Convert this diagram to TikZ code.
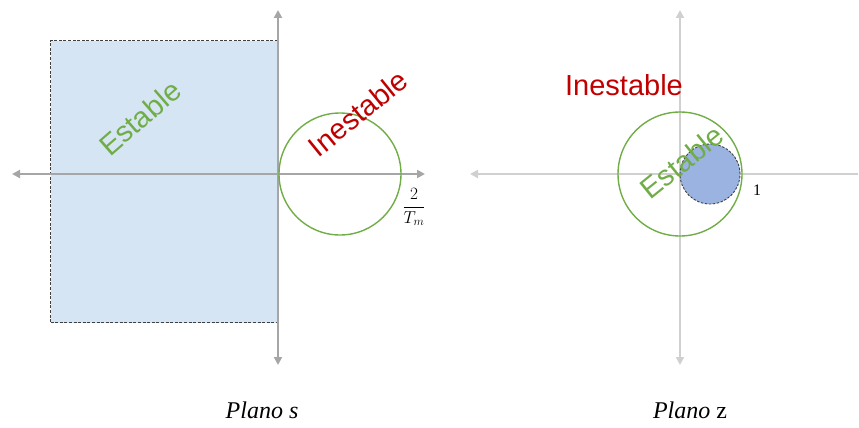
\documentclass[tikz,border=0pt]{standalone}
\usepackage{fontspec}
\setmainfont{Liberation Serif}
\newfontfamily\labfont{Liberation Sans}
\usetikzlibrary{arrows.meta}
\definecolor{axisdark}{HTML}{A6A6A6}
\definecolor{axislight}{HTML}{D0D0D0}
\definecolor{grn}{HTML}{70AD47}
\definecolor{rd}{HTML}{C00000}
\definecolor{lightblue}{HTML}{D6E5F3}
\definecolor{midblue}{HTML}{9BB3E0}
\tikzset{
  tipL/.tip={Triangle[length=8pt,width=8pt]},
  axisL/.style={draw=axisdark, line width=2.2pt},
  axisR/.style={draw=axislight, line width=2.2pt},
  regionbox/.style={draw=black!75, dash pattern=on 3pt off 1.6pt, line width=1.1pt, fill=lightblue},
  greencirc/.style={draw=grn, line width=1.4pt},
  bluecirc/.style={draw=black!75, dash pattern=on 2.5pt off 1.5pt, line width=0.9pt, fill=midblue},
  lab/.style={font=\labfont\fontsize{29}{32}\selectfont, inner sep=0pt},
  plano/.style={font=\fontsize{24}{28}\selectfont\itshape, inner sep=0pt}
}
\begin{document}
\begin{tikzpicture}[x=1pt,y=-1pt]
\useasboundingbox (0,0) rectangle (859,428);
% ---- s plane ----
\node[regionbox, minimum width=228pt, minimum height=282pt, inner sep=0pt, anchor=north west] (box) at (50,40) {};
\coordinate (sL) at (12,174);
\coordinate (sR) at (425,174);
\coordinate (sT) at (278,10);
\coordinate (sB) at (278,365);
\draw[axisL, tipL-tipL] (sL) -- (sR);
\draw[axisL, tipL-tipL] (sT) -- (sB);
\node[greencirc, circle, minimum size=122pt, inner sep=0pt] (gs) at (340,174) {};
\node[lab, text=grn, rotate=41] (es) at (140,118) {Estable};
\node[lab, text=rd, rotate=39] (is) at (358,113) {Inestable};
\node[inner sep=0pt, font=\fontsize{17}{20}\selectfont] (tm) at (414,207) {$\displaystyle\frac{2}{T_m}$};
\node[plano] (ps) at (262,410) {Plano s};
% ---- z plane ----
\coordinate (zL) at (470,174);
\coordinate (zR) at (858,174);
\coordinate (zT) at (680,10);
\coordinate (zB) at (680,365);
\draw[axisR, tipL-] (zL) -- (zR);
\draw[axisR, tipL-tipL] (zT) -- (zB);
\node[greencirc, circle, minimum size=124pt, inner sep=0pt] (gz) at (680,174) {};
\node[bluecirc, circle, minimum size=60pt, inner sep=0pt] (bz) at (710,174) {};
\node[lab, text=grn, rotate=39] (ez) at (682,162) {Estable};
\node[lab, text=rd] (iz) at (624,85) {Inestable};
\node[inner sep=0pt, font=\fontsize{16}{18}\selectfont] (one) at (757,190) {1};
\node[plano] (pz) at (690,410) {Plano {\upshape z}};
\end{tikzpicture}
\end{document}
